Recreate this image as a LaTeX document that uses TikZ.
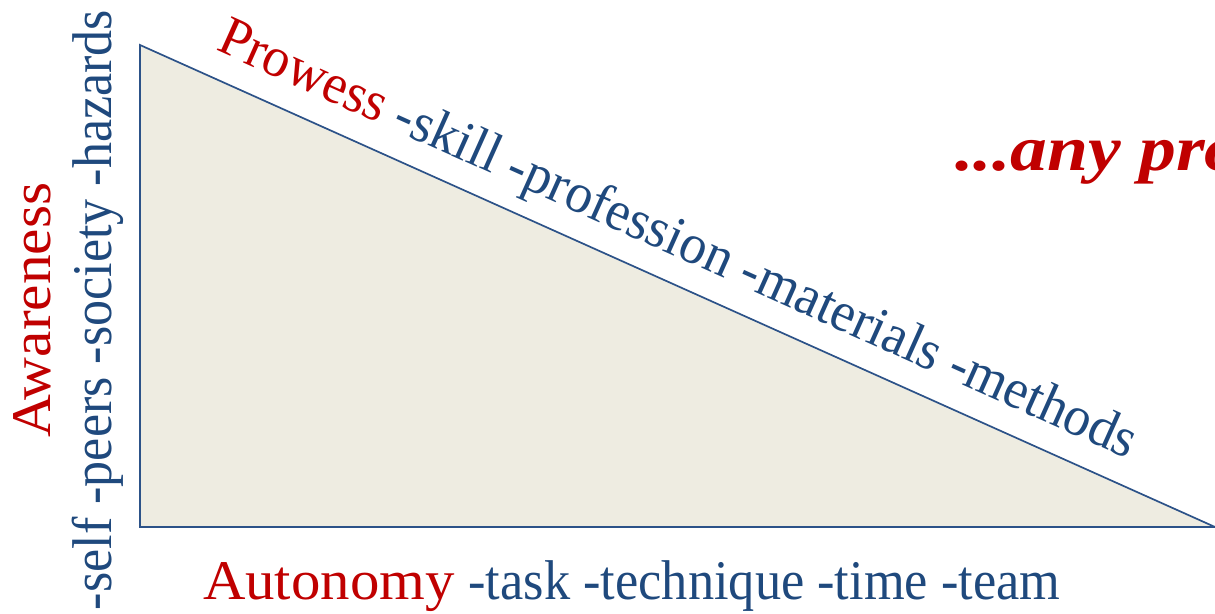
\documentclass[tikz,border=0pt]{standalone}
\usepackage{fontspec}
\setmainfont{Liberation Serif}
\definecolor{tred}{HTML}{C00000}
\definecolor{tblue}{HTML}{1F497D}
\definecolor{lblue}{HTML}{2C5288}
\definecolor{tan}{HTML}{EEECE1}
\begin{document}
\begin{tikzpicture}[x=1pt,y=1pt,
  lbl/.style={inner sep=0pt,outer sep=0pt,font=\fontsize{56}{62}\selectfont,text=tblue}]
\clip (0,0) rectangle (1215,613);
\useasboundingbox (0,0) rectangle (1215,613);
\coordinate (A) at (140,568);
\coordinate (B) at (140,86);
\coordinate (C) at (1215,86);
\filldraw[fill=tan,draw=lblue,line width=1.7pt,line join=miter] (A) -- (B) -- (C) -- cycle;
\node[lbl,rotate=-24.15,anchor=base west] (pro) at (215,563)
  {\scalebox{0.96}[1]{\textcolor{tred}{Prowess} -skill -profession -materials -methods}};
\node[lbl,rotate=90,anchor=base] (aw) at (50,303) {\textcolor{tred}{\scalebox{1.06}[1]{Awareness}}};
\node[lbl,rotate=90,anchor=base] (aw2) at (111,303) {\scalebox{0.93}[1]{-self -peers -society -hazards}};
\node[lbl,anchor=base west] (au) at (203,13)
  {\textcolor{tred}{\scalebox{1.05}[1]{Autonomy}} \scalebox{0.935}[1]{-task -technique -time -team}};
\node[inner sep=0pt,anchor=base west,text=tred,font=\fontsize{64}{70}\selectfont\bfseries\itshape] (any) at (955,442) {\scalebox{1.15}[1]{...any profession}};
\end{tikzpicture}
\end{document}
